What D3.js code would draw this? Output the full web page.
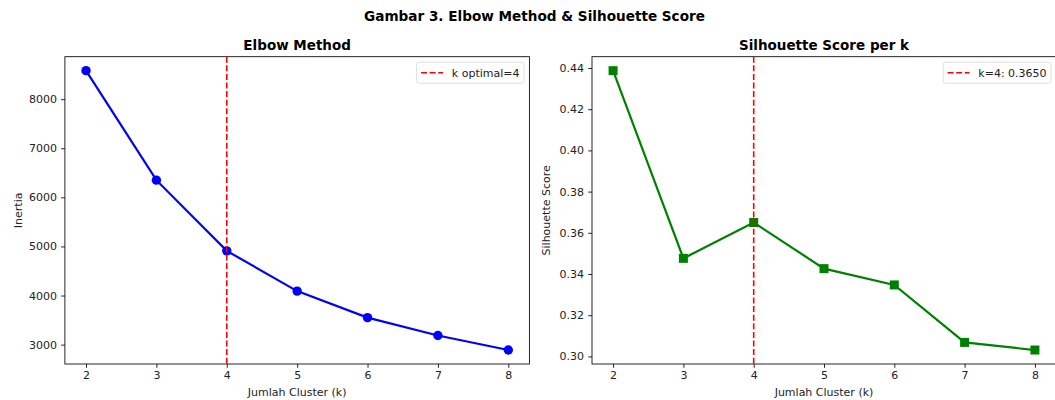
<!DOCTYPE html>
<meta charset="utf-8">
<style>
body { margin: 0; background: #fff; }
svg text { font-family: "DejaVu Sans", sans-serif; fill: #000; }
.axis path, .axis line { stroke: #000; stroke-width: 0.85; }
.axis text { font-size: 11px; fill: #222; }
</style>
<script src="https://d3js.org/d3.v7.min.js"></script>
<body>
<div id="chart"></div>
<script>
// data
var kValues = [2, 3, 4, 5, 6, 7, 8];
var inertia = [8580, 6350, 4910, 4090, 3550, 3185, 2890];
var silhouette = [0.4387, 0.3476, 0.3650, 0.3426, 0.3347, 0.3068, 0.3031];
var inertiaTicks = [3000, 4000, 5000, 6000, 7000, 8000];
var silTicks = [0.30, 0.32, 0.34, 0.36, 0.38, 0.40, 0.42, 0.44];
var kOptimal = 4;

var W = 1055, H = 400;
var fs = 11;   // base font size (10pt)
var svg = d3.select("#chart").append("svg")
    .attr("width", W).attr("height", H);

// figure is a bit wider than the window, so the suptitle sits right of centre
svg.append("text")
    .attr("x", 534.5).attr("y", 21)
    .attr("text-anchor", "middle")
    .style("font-size", "13.6px").style("font-weight", "bold")
    .text("Gambar 3. Elbow Method & Silhouette Score");

// matplotlib-like autoscale with 5% margins
function padded(vals) {
    var e = d3.extent(vals), m = (e[1] - e[0]) * 0.05;
    return [e[0] - m, e[1] + m];
}

function panel(opt) {
    var left = opt.left, top = 56.7, w = opt.width, h = 307.3;
    var g = svg.append("g").attr("transform", "translate(" + left + "," + top + ")");

    var x = d3.scaleLinear().domain(padded(kValues)).range([0, w]);
    var y = d3.scaleLinear().domain(padded(opt.values)).range([h, 0]);

    g.append("g").attr("class", "axis")
        .attr("transform", "translate(0," + h + ")")
        .call(d3.axisBottom(x).tickValues(kValues).tickSize(3.8).tickPadding(3.6).tickFormat(d3.format("d")));
    g.append("g").attr("class", "axis")
        .call(d3.axisLeft(y).tickValues(opt.ticks).tickSize(3.8).tickPadding(4.2).tickFormat(opt.fmt));
    g.selectAll(".axis .domain").remove();

    // frame
    g.append("rect").attr("width", w).attr("height", h)
        .attr("fill", "none").attr("stroke", "#000").attr("stroke-width", 0.85);

    // title + labels
    g.append("text").attr("x", w / 2).attr("y", -7)
        .attr("text-anchor", "middle")
        .style("font-size", "13.5px").style("font-weight", "bold")
        .text(opt.title);
    g.append("text").attr("x", w / 2).attr("y", h + 32.5)
        .attr("text-anchor", "middle").style("font-size", fs + "px").style("fill", "#222")
        .text("Jumlah Cluster (k)");
    g.append("text")
        .attr("transform", "rotate(-90)")
        .attr("x", -h / 2).attr("y", opt.ylabelX)
        .attr("text-anchor", "middle").style("font-size", fs + "px").style("fill", "#222")
        .text(opt.ylabel);

    var pts = kValues.map(function (k, i) { return [k, opt.values[i]]; });

    g.append("path")
        .datum(pts)
        .attr("fill", "none")
        .attr("stroke", opt.color)
        .attr("stroke-width", 2.2)
        .attr("d", d3.line().x(function (d) { return x(d[0]); }).y(function (d) { return y(d[1]); }));

    if (opt.marker == "circle") {
        g.selectAll(".pt").data(pts).enter().append("circle")
            .attr("cx", function (d) { return x(d[0]); })
            .attr("cy", function (d) { return y(d[1]); })
            .attr("r", 4.7)
            .attr("fill", opt.color);
    } else {
        g.selectAll(".pt").data(pts).enter().append("rect")
            .attr("x", function (d) { return x(d[0]) - 4.5; })
            .attr("y", function (d) { return y(d[1]) - 4.5; })
            .attr("width", 9).attr("height", 9)
            .attr("fill", opt.color);
    }

    // optimal k line
    g.append("line")
        .attr("x1", x(kOptimal)).attr("x2", x(kOptimal))
        .attr("y1", 0).attr("y2", h)
        .attr("stroke", "#ff0000").attr("stroke-width", 1.6)
        .attr("stroke-dasharray", "6,2.6");

    // legend (matplotlib spacing in font units)
    var lg = g.append("g");
    var lt = lg.append("text").attr("x", 0).attr("y", 0)
        .style("font-size", fs + "px").style("fill", "#222").text(opt.legend);
    var tw = lt.node().getComputedTextLength();
    var pad = 0.4 * fs, hl = 2 * fs, hp = 0.8 * fs;
    var bw = pad + hl + hp + tw + pad, bh = 21;
    var bx = opt.legendRight - bw, by = 0.5 * fs;
    lg.insert("rect", "text")
        .attr("x", bx).attr("y", by).attr("width", bw).attr("height", bh)
        .attr("rx", 2.5).attr("fill", "#fff").attr("fill-opacity", 0.8)
        .attr("stroke", "#d6d6d6").attr("stroke-width", 0.8);
    lg.append("line")
        .attr("x1", bx + pad).attr("x2", bx + pad + hl)
        .attr("y1", by + bh / 2).attr("y2", by + bh / 2)
        .attr("stroke", "#ff0000").attr("stroke-width", 1.6)
        .attr("stroke-dasharray", "6,2.6");
    lt.attr("x", bx + pad + hl + hp).attr("y", by + bh / 2 + 4);
}

panel({
    left: 64.9, width: 464.5, legendRight: 464.5 - 5.5,
    values: inertia, ticks: inertiaTicks, fmt: d3.format("d"),
    color: "#0000ff", marker: "circle",
    title: "Elbow Method", ylabel: "Inertia", ylabelX: -43,
    legend: "k optimal=" + kOptimal
});

panel({
    left: 592, width: 464, legendRight: 459,
    values: silhouette, ticks: silTicks, fmt: d3.format(".2f"),
    color: "#008000", marker: "square",
    title: "Silhouette Score per k", ylabel: "Silhouette Score", ylabelX: -42,
    legend: "k=" + kOptimal + ": " + d3.format(".4f")(silhouette[kValues.indexOf(kOptimal)])
});
</script>
</body>
